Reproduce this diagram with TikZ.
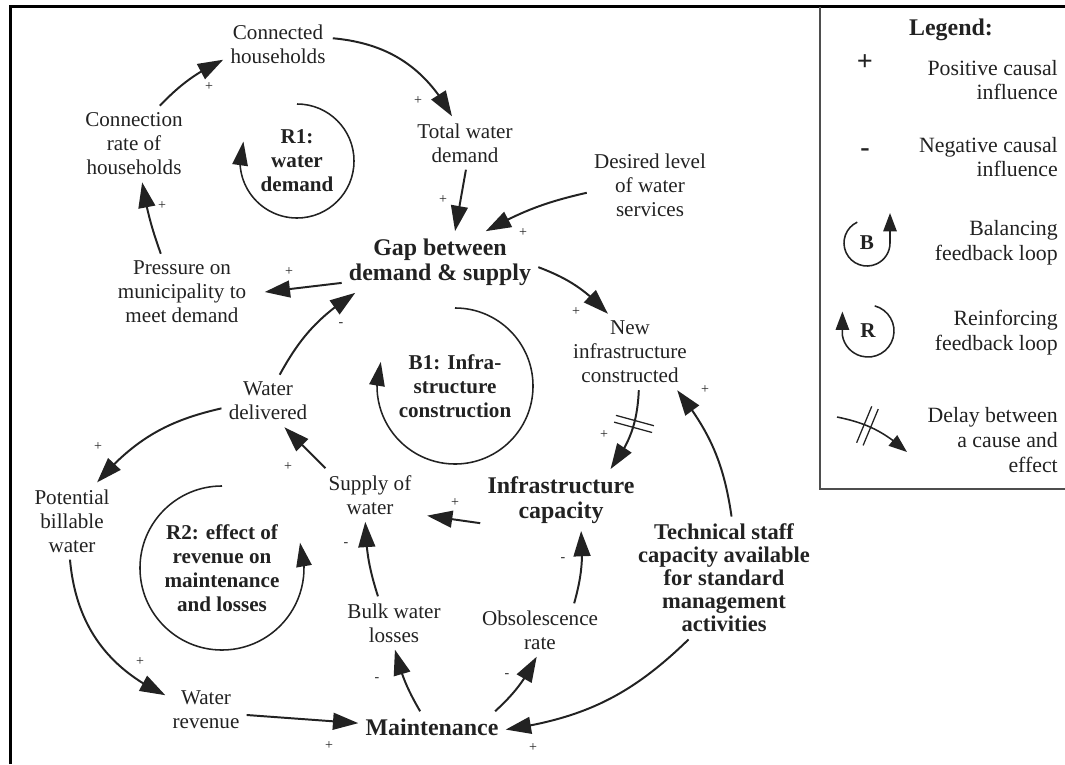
\documentclass[tikz,border=0pt]{standalone}
\usepackage{fontspec}
\setmainfont{Liberation Serif}
\usepackage{tikz}
\usetikzlibrary{arrows.meta,bending,decorations.markings}
\definecolor{ink}{RGB}{34,34,34}
\newcommand\varsize{\fontsize{15}{17}\selectfont}
\newcommand\keysize{\fontsize{17}{18}\selectfont}
\newcommand\staffsize{\fontsize{16}{16.4}\selectfont}
\newcommand\loopsize{\fontsize{15}{17}\selectfont}
\newcommand\signsize{\fontsize{10}{12}\selectfont}
\newcommand\legsize{\fontsize{15.5}{17.6}\selectfont}

\begin{document}
\begin{tikzpicture}[
  x=0.025cm, y=-0.025cm,
  every node/.style={text=ink, font=\varsize},
  var/.style={align=center, inner sep=5pt},
  keyvar/.style={var, font=\keysize\bfseries},
  staffvar/.style={var, font=\staffsize\bfseries},
  looplabel/.style={align=center, inner sep=0pt, font=\loopsize\bfseries},
  sign/.style={inner sep=0pt, font=\signsize},
  link/.style={-{Triangle[length=18pt, width=12pt]}, line width=1.4pt, draw=ink},
  loopar/.style={-{Triangle[length=17pt, width=11pt]}, line width=1.1pt, draw=ink},
  legarrow/.style={-{Triangle[length=13pt, width=9.5pt]}, line width=1.1pt, draw=ink},
  delayed/.style={postaction={decorate}, decoration={markings, mark=at position #1 with {\draw[-, line width=0.9pt, ink] (-2.5pt,-14pt) -- (-2.5pt,14pt) (2.5pt,-14pt) -- (2.5pt,14pt);}}},
  legtext/.style={align=right, anchor=east, inner sep=0pt, font=\legsize},
  legsym/.style={inner sep=0pt, font=\fontsize{20}{20}\selectfont\bfseries},
]
  \useasboundingbox (0,0) rectangle (1065,764);

  % Frame and legend box
  \draw[line width=2.2pt, black] (10.5,764) -- (10.5,6.5) -- (1065,6.5);
  \draw[line width=1.1pt, ink!80] (820,6.5) -- (820,489) -- (1065,489);

  % Variables
  \node[var] (conhh) at (278,44) {Connected\\households};
  \node[var] (conrate) at (134,144) {Connection\\rate of\\households};
  \node[looplabel] (r1) at (297,161) {R1:\\water\\demand};
  \node[var] (totdem) at (465,143) {Total water\\demand};
  \node[var] (desired) at (650,185) {Desired level\\of water\\services};
  \node[keyvar] (gap) at (440,262) {Gap between\\demand \& supply};
  \node[var] (pressure) at (182,292) {Pressure on\\municipality to\\meet demand};
  \node[looplabel] (b1) at (455,386) {B1: Infra-\\structure\\construction};
  \node[var] (newinf) at (630,352) {New\\infrastructure\\constructed};
  \node[var] (watdel) at (268,401) {Water\\delivered};
  \node[var] (supply) at (370,495) {Supply of\\water};
  \node[keyvar] (infcap) at (561,500) {Infrastructure\\capacity};
  \node[var] (potbill) at (72,521) {Potential\\billable\\water};
  \node[looplabel] (r2) at (222,568) {R2: effect of\\revenue on\\maintenance\\and losses};
  \node[staffvar] (staff) at (724,578) {Technical staff\\capacity available\\for standard\\management\\activities};
  \node[var] (bulk) at (394,623) {Bulk water\\losses};
  \node[var] (obsol) at (540,630) {Obsolescence\\rate};
  \node[var] (watrev) at (206,710) {Water\\revenue};
  \node[keyvar] (maint) at (432,727) {Maintenance};

  % Loop markers
  \draw[loopar] ([shift={(90:1.425cm)}]r1.center) arc[start angle=90, end angle=-200, radius=1.425cm];
  \draw[loopar] ([shift={(90:1.95cm)}]b1.center) arc[start angle=90, end angle=-198, radius=1.95cm];
  \draw[loopar] ([shift={(90:2.05cm)}]r2.center) arc[start angle=90, end angle=378, radius=2.05cm];

  % R1 links
  \draw[link] (conrate.56) to[bend left=10] (conhh.196);
  \draw[link] (conhh.6) to[bend left=28] (totdem.116);
  \draw[link] (totdem.-88) -- (gap.64);
  \draw[link] (desired.187) to[bend right=8] (gap.34);
  \draw[link] (gap.192) -- ([xshift=8pt]pressure.east);
  \draw[link] (pressure.119) to[bend left=5] (conrate.-78);

  % B1 links
  \draw[link] (gap.-3) to[bend left=13] (newinf.120);
  \draw[link, delayed=0.4] (newinf.-77) to[bend left=17] (infcap.32);
  \draw[link] (infcap.196) -- ([xshift=6pt]supply.-23);
  \draw[link] (supply.149) -- (watdel.-58);
  \draw[link] (watdel.66) to[bend left=14] (gap.200);

  % R2 links
  \draw[link] (watdel.189) to[bend right=18] (potbill.57);
  \draw[link] (potbill.-93) to[bend right=30] (watrev.160);
  \draw[link] (watrev.-7) -- (maint.177);
  \draw[link] (maint.127) to[bend left=8] (bulk.-88);
  \draw[link] (bulk.121) to[bend left=8] (supply.-100);
  \draw[link] (maint.14) to[bend right=10] (obsol.-97);
  \draw[link] (obsol.38) to[bend right=10] (infcap.-57);

  % Staff capacity
  \draw[link] (staff.83) to[bend right=15] (newinf.-39);
  \draw[link] (staff.240) to[bend left=18] (maint.-2);

  % Polarities
  \node[sign] (s1) at (209,87) {+};
  \node[sign] (s2) at (418,101) {+};
  \node[sign] (s3) at (443,200) {+};
  \node[sign] (s4) at (523,233) {+};
  \node[sign] (s5) at (289,272) {+};
  \node[sign] (s6) at (341,325) {-};
  \node[sign] (s7) at (576,312) {+};
  \node[sign] (s8) at (162,206) {+};
  \node[sign] (s9) at (604,435) {+};
  \node[sign] (s10) at (705,390) {+};
  \node[sign] (s11) at (455,503) {+};
  \node[sign] (s12) at (288,467) {+};
  \node[sign] (s13) at (98,447) {+};
  \node[sign] (s14) at (140,662) {+};
  \node[sign] (s15) at (329,746) {+};
  \node[sign] (s16) at (377,680) {-};
  \node[sign] (s17) at (346,545) {-};
  \node[sign] (s18) at (507,676) {-};
  \node[sign] (s19) at (563,560) {-};
  \node[sign] (s20) at (533,748) {+};

  % Legend
  \node[font=\keysize\bfseries, inner sep=0pt] (legtitle) at (951,30) {Legend:};
  \node[legsym] (lplus) at (865,63) {+};
  \node[legtext] (lpostext) at (1058,80) {Positive causal\\influence};
  \node[legsym] (lminus) at (865,153) {-};
  \node[legtext] (lnegtext) at (1058,157) {Negative causal\\influence};
  \node[font=\loopsize\bfseries, inner sep=0pt] (lb) at (867,243) {B};
  \node[legtext] (lbaltext) at (1058,243) {Balancing\\feedback loop};
  \node[font=\loopsize\bfseries, inner sep=0pt] (lr) at (868,331) {R};
  \node[legtext] (lreitext) at (1058,333) {Reinforcing\\feedback loop};
  \coordinate (ldstart) at (837,417);
  \coordinate (ldend) at (907,452);
  \node[legtext] (ldeltext) at (1058,440) {Delay between\\a cause and\\effect};

  \draw[legarrow] ([shift={(115:0.575cm)}]lb.center) arc[start angle=115, end angle=360, radius=0.575cm] -- ++(0,-30);
  \draw[legarrow] ([shift={(75:0.65cm)}]lr.center) arc[start angle=75, end angle=-170, radius=0.65cm] -- ++(0,-24);
  \draw[legarrow, delayed=0.4] (ldstart) to[bend left=15] (ldend);
\end{tikzpicture}
\end{document}
